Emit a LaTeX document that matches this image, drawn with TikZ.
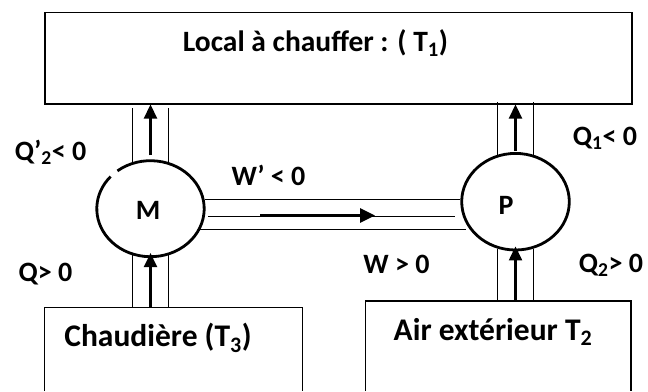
\documentclass[tikz,border=0pt]{standalone}
\usepackage{fontspec}
\setmainfont{Carlito}
\usetikzlibrary{arrows.meta,shapes.geometric,calc}
\begin{document}
\begin{tikzpicture}[x=1pt,y=-1pt,
  box/.style={line width=1.5pt},
  pipe/.style={line width=1.3pt},
  arr/.style={line width=2.2pt,-{Triangle[length=14pt,width=13pt]}},
  warr/.style={line width=3pt,-{Triangle[length=15pt,width=14pt]}},
  ring/.style={line width=2.8pt},
  engine/.style={ellipse,draw=none,line width=2.8pt,inner sep=0pt},
  title/.style={font=\fontsize{29.5}{34}\selectfont\bfseries,inner sep=0pt},
  btitle/.style={font=\fontsize{31.5}{36}\selectfont\bfseries,inner sep=0pt},
  lab/.style={font=\fontsize{28}{32}\selectfont\bfseries,inner sep=0pt},
  elab/.style={font=\fontsize{28}{32}\selectfont\bfseries,inner sep=0pt},
]
\useasboundingbox (0,0) rectangle (648,391);
\fill[white] (0,0) rectangle (648,391);

% reservoirs
\node[draw,box,anchor=north west,minimum width=587pt,minimum height=91.3pt,inner sep=0pt] (top) at (44,11.7) {};
\node[title,anchor=base] (ttl) at (315.5,51.7) {Local à chauffer : ( T\textsubscript{1})};

\node[draw=none,anchor=north west,minimum width=258.4pt,minimum height=83.3pt,inner sep=0pt,outer sep=0pt] (chb) at (44.3,307.7) {};
\draw[box] (chb.south west) |- (chb.north east) -- (chb.south east);
\node[btitle,anchor=base] (chtxt) at (158,346.7) {Chaudière (T\textsubscript{3})};

\node[draw=none,anchor=north west,minimum width=265.3pt,minimum height=90pt,inner sep=0pt,outer sep=0pt] (air) at (365.7,301) {};
\draw[box] (air.south west) |- (air.north east) -- (air.south east);
\node[btitle,anchor=base] (airtxt) at (493,340) {Air extérieur T\textsubscript{2}};

% engines
\node[engine,minimum width=107.4pt,minimum height=96pt] (M) at (150.5,208.7) {};
\draw[ring] ($(M.center)+(232:53.7 and 48)$) arc[start angle=232,end angle=582,x radius=53.7,y radius=48];
\node[elab] (Mt) at (148,210) {M};

\node[engine,draw,minimum width=107.6pt,minimum height=96.6pt] (P) at (515.5,201.7) {};
\node[elab] (Pt) at (506,205.5) {P};

% vertical pipes
\draw[pipe] (M.111) -- ($(M.111 |- top.south)+(0,3)$);
\draw[pipe] (M.69) -- ($(M.69 |- top.south)+(0,3)$);
\draw[pipe] (M.249) -- (M.249 |- chb.north);
\draw[pipe] (M.291) -- (M.291 |- chb.north);
\draw[pipe] (P.111) -- ($(P.111 |- top.south)+(0,-3)$);
\draw[pipe] (P.69) -- ($(P.69 |- top.south)+(0,-3)$);
\draw[pipe] (P.249) -- (P.249 |- air.north);
\draw[pipe] (P.291) -- (P.291 |- air.north);

% heat arrows
\draw[arr] ($(M.north)+(0,-4)$) -- (M.north |- top.south);
\draw[arr] (M.south |- chb.north) -- ($(M.south)+(0,-5)$);
\draw[arr] ($(P.north)+(0,-1)$) -- (P.north |- top.south);
\draw[arr] (P.south |- air.north) -- ($(P.south)+(0,-5)$);

% horizontal work pipe
\draw[pipe] (M.10) -- (M.10 -| P.177);
\draw[pipe] (M.-23) -- (M.-23 -| P.205);
\coordinate (w1) at (208,216.7);
\coordinate (w2) at (455,216.7);
\draw[pipe] (w1) -- (w2);
\coordinate (wa) at (260,215.5);
\coordinate (wb) at (375,215.5);
\draw[warr] (wa) -- (wb);

% labels
\node[lab,anchor=base] (lq2) at (50.5,160.7) {Q’\textsubscript{2}< 0};
\node[lab,anchor=base] (lq) at (45.5,281.7) {Q> 0};
\node[lab,anchor=base] (lw1) at (268.5,185) {W’ < 0};
\node[lab,anchor=base] (lw) at (396.5,273) {W > 0};
\node[lab,anchor=base] (lq1) at (605,145.5) {Q\textsubscript{1}< 0};
\node[lab,anchor=base] (lq22) at (611,272) {Q\textsubscript{2}> 0};
\end{tikzpicture}
\end{document}
